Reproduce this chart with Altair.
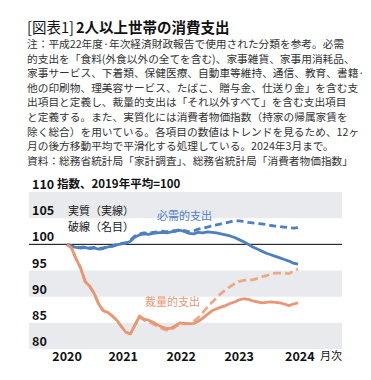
import altair as alt
import pandas as pd

F = "Noto Sans CJK JP"

# months since Dec 2019 (0) .. Mar 2024 (51)
months = list(range(52))

nec_real = [100.0, 99.6, 99.4, 99.3, 99.4, 99.2, 99.3, 99.1, 99.2, 99.5,
            99.6, 99.9, 100.1, 100.2, 100.6, 101.4, 101.8, 102.0, 101.9, 102.1,
            102.2, 102.3, 102.2, 102.4, 102.5, 102.7, 102.4, 102.1, 102.0, 102.3,
            102.2, 102.4, 102.3, 102.2, 102.0, 101.8, 101.6, 101.3, 100.9, 100.5,
            100.0, 99.5, 99.1, 98.7, 98.3, 98.0, 97.7, 97.4, 97.1, 96.8,
            96.4, 96.2]
nec_nom = [100.0, 99.7, 99.5, 99.4, 99.5, 99.3, 99.4, 99.2, 99.3, 99.6,
           99.7, 100.0, 100.2, 100.3, 100.8, 101.6, 102.0, 102.2, 102.1, 102.3,
           102.4, 102.5, 102.4, 102.6, 102.6, 102.8, 102.6, 102.4, 102.6, 102.9,
           103.1, 103.3, 103.5, 103.7, 103.9, 104.1, 104.3, 104.5, 104.5, 104.4,
           104.2, 104.1, 104.0, 103.9, 103.8, 103.6, 103.5, 103.4, 103.3, 103.2,
           103.1, 103.2]
dis_real = [100.0, 99.3, 97.2, 95.5, 92.9, 92.0, 90.6, 88.6, 87.3, 87.0,
            86.3, 85.5, 84.3, 83.2, 82.9, 84.6, 86.3, 85.7, 85.5, 85.1,
            84.6, 84.2, 83.9, 84.0, 84.5, 85.0, 84.9, 84.8, 84.9, 85.3,
            85.9, 86.6, 87.3, 87.7, 88.0, 88.3, 88.7, 89.0, 89.4, 89.6,
            89.5, 89.2, 89.0, 88.8, 88.9, 89.0, 88.9, 88.8, 88.6, 88.3,
            88.6, 88.8]
dis_nom = [100.0, 99.3, 97.2, 95.5, 92.9, 92.0, 90.6, 88.6, 87.3, 87.0,
           86.3, 85.5, 84.3, 83.2, 82.9, 84.5, 86.1, 85.5, 85.2, 84.8,
           84.3, 83.9, 83.6, 83.7, 84.3, 84.8, 84.8, 84.9, 85.3, 86.0,
           87.0, 88.0, 88.9, 89.8, 90.6, 91.3, 91.9, 92.5, 92.9, 93.1,
           93.2, 93.2, 93.5, 93.8, 94.0, 94.3, 94.5, 94.5, 94.5, 94.4,
           94.9, 95.3]

year_labels = ["2020", "2021", "2022", "2023", "2024"]
year_pos = [0, 12.4, 25.2, 38.0, 51.4]
y_ticks = [80, 85, 90, 95, 100, 105, 110]
bands_lo = [105, 90, 80]
bands_hi = [110, 95, 85]

title_a = "[図表1]"
title_b = "2人以上世帯の消費支出"
note_lines = [
    "注：平成22年度·年次経済財政報告で使用された分類を参考。必需",
    "的支出を「食料(外食以外の全てを含む)、家事雑貨、家事用消耗品、",
    "家事サービス、下着類、保健医療、自動車等維持、通信、教育、書籍·",
    "他の印刷物、理美容サービス、たばこ、贈与金、仕送り金」を含む支",
    "出項目と定義し、裁量的支出は「それ以外すべて」を含む支出項目",
    "と定義する。また、実質化には消費者物価指数（持家の帰属家賃を",
    "除く総合）を用いている。各項目の数値はトレンドを見るため、12ヶ",
    "月の後方移動平均で平滑化する処理している。2024年3月まで。",
    "資料：総務省統計局「家計調査」、総務省統計局「消費者物価指数」",
]

BLUE = "#4d7fc1"
ORANGE = "#eb9673"
ORANGE_L = "#efa885"
BAND = "#e8eaed"

W, H = 313, 157
xs = alt.Scale(domain=[-8.39, 60.71])
ys = alt.Scale(domain=[80, 110])

bands_df = pd.DataFrame({"lo": bands_lo, "hi": bands_hi})
bands = alt.Chart(bands_df).mark_rect(color=BAND).encode(
    x=alt.value(0), x2=alt.value(W),
    y=alt.Y("lo:Q", scale=ys, axis=None), y2="hi:Q")

rule = alt.Chart(pd.DataFrame({"v": [100]})).mark_rule(color="black", strokeWidth=1).encode(
    x=alt.value(0), x2=alt.value(W), y=alt.Y("v:Q", scale=ys, axis=None))


def line(vals, color, dash=None):
    df = pd.DataFrame({"t": months, "v": vals})
    kw = dict(color=color, strokeWidth=2.8, strokeJoin="round")
    if dash:
        kw["strokeDash"] = dash
    return alt.Chart(df).mark_line(**kw).encode(
        x=alt.X("t:Q", scale=xs, axis=None),
        y=alt.Y("v:Q", scale=ys, axis=None))


l_nec_nom = line(nec_nom, BLUE, [7, 4])
l_dis_nom = line(dis_nom, ORANGE_L, [8, 4])
l_nec_real = line(nec_real, BLUE)
l_dis_real = line(dis_real, ORANGE)

ytick_df = pd.DataFrame({"v": y_ticks, "label": [str(v) for v in y_ticks]})
ylabels = alt.Chart(ytick_df).mark_text(
    align="left", baseline="middle", dy=-7, font=F, fontSize=12.5,
    fontWeight="bold", color="#111").encode(
    x=alt.value(3), y=alt.Y("v:Q", scale=ys, axis=None), text="label:N")

unit = alt.Chart(pd.DataFrame({"a": [0]})).mark_text(
    align="left", baseline="middle", font=F, fontSize=11.5, fontWeight="bold",
    color="#111", text="指数、2019年平均=100").encode(x=alt.value(28), y=alt.value(-7))

xt_df = pd.DataFrame({"p": year_pos, "label": year_labels})
xlabels = alt.Chart(xt_df).mark_text(
    align="center", baseline="middle", font=F, fontSize=12.5, fontWeight="bold",
    color="#111").encode(
    x=alt.X("p:Q", scale=xs, axis=None), y=alt.value(165), text="label:N")

getsuji = alt.Chart(pd.DataFrame({"a": [0]})).mark_text(
    align="center", baseline="middle", font=F, fontSize=11, color="#111",
    text="月次").encode(x=alt.value(302), y=alt.value(165))

leg1 = alt.Chart(pd.DataFrame({"a": [0]})).mark_text(
    align="left", baseline="middle", font=F, fontSize=11, color="#222",
    text="実質（実線）").encode(x=alt.value(39), y=alt.value(20))
leg2 = alt.Chart(pd.DataFrame({"a": [0]})).mark_text(
    align="left", baseline="middle", font=F, fontSize=11, color="#222",
    text="破線（名目）").encode(x=alt.value(39), y=alt.value(36))
lab_nec = alt.Chart(pd.DataFrame({"a": [0]})).mark_text(
    align="left", baseline="middle", font=F, fontSize=11, color=BLUE,
    text="必需的支出").encode(x=alt.value(128), y=alt.value(25))
lab_dis = alt.Chart(pd.DataFrame({"a": [0]})).mark_text(
    align="left", baseline="middle", font=F, fontSize=11, color=ORANGE,
    text="裁量的支出").encode(x=alt.value(116), y=alt.value(111))

t_a = alt.Chart(pd.DataFrame({"a": [0]})).mark_text(
    align="left", baseline="middle", font=F, fontSize=14.5, color="#111",
    text=title_a).encode(x=alt.value(-2), y=alt.value(-163))
t_b = alt.Chart(pd.DataFrame({"a": [0]})).mark_text(
    align="left", baseline="middle", font=F, fontSize=14.5, fontWeight="bold",
    color="#111", text=title_b).encode(x=alt.value(47), y=alt.value(-163))
notes = alt.Chart(pd.DataFrame({"a": [0]})).mark_text(
    align="left", baseline="middle", font=F, fontSize=10.7, color="#333",
    lineHeight=14.6, text=note_lines).encode(x=alt.value(-2), y=alt.value(-147))

chart = alt.layer(
    bands, rule, l_nec_nom, l_dis_nom, l_nec_real, l_dis_real,
    ylabels, unit, xlabels, getsuji, leg1, leg2, lab_nec, lab_dis,
    t_a, t_b, notes
).properties(
    width=W, height=H,
    autosize=alt.AutoSizeParams(type="none"),
    padding={"left": 21, "top": 184, "right": 21, "bottom": 20},
    background="white",
).configure_view(stroke=None)

chart.save("out.html", embed_options={"renderer": "svg", "actions": False})
